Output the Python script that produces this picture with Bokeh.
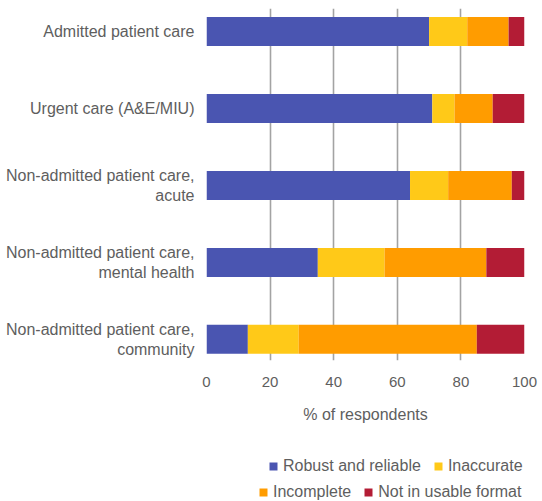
from bokeh.plotting import figure
from bokeh.layouts import column
from bokeh.models import ColumnDataSource, Range1d, FixedTicker, Legend, LegendItem
from bokeh.embed import file_html
from bokeh.resources import INLINE

categories = [
    "Admitted patient care",
    "Urgent care (A&E/MIU)",
    "Non-admitted patient care,\nacute",
    "Non-admitted patient care,\nmental health",
    "Non-admitted patient care,\ncommunity",
]
robust = [70, 71, 64, 35, 13]
inaccurate = [12, 7, 12, 21, 16]
incomplete = [13, 12, 20, 32, 56]
not_usable = [5, 10, 4, 12, 15]
series_names = ["Robust and reliable", "Inaccurate", "Incomplete", "Not in usable format"]
x_ticks = [0, 20, 40, 60, 80, 100]

colors = ["#4A55B1", "#FFC918", "#FF9C00", "#B31C35"]
text_color = "#5e5e5e"
font = "Liberation Sans"

ypos = list(range(len(categories)))
src = ColumnDataSource(dict(y=ypos, robust=robust, inaccurate=inaccurate,
                            incomplete=incomplete, not_usable=not_usable))

p = figure(width=542, height=440, output_backend="svg", toolbar_location=None,
           x_range=Range1d(0, 100), y_range=Range1d(4.275, -0.3),
           min_border_left=206, min_border_right=18, min_border_top=8,
           min_border_bottom=80)
p.outline_line_color = None

renderers = p.hbar_stack(["robust", "inaccurate", "incomplete", "not_usable"], y="y",
                         height=0.377, color=colors, source=src, line_width=0)

# grid
p.xgrid.ticker = FixedTicker(ticks=x_ticks)
p.xgrid.grid_line_color = "#a3a3a3"
p.xgrid.grid_line_width = 1.6
p.ygrid.grid_line_color = None

# x axis
xa = p.xaxis[0]
xa.ticker = FixedTicker(ticks=x_ticks)
xa.axis_line_color = None
xa.major_tick_line_color = None
xa.minor_tick_line_color = None
xa.major_label_text_font = font
xa.major_label_text_font_size = "15px"
xa.major_label_text_color = text_color
xa.major_label_standoff = 10
xa.axis_label = "% of respondents"
xa.axis_label_text_font = font
xa.axis_label_text_font_size = "16px"
xa.axis_label_text_font_style = "normal"
xa.axis_label_text_color = text_color
xa.axis_label_standoff = 16

# y axis
ya = p.yaxis[0]
ya.ticker = FixedTicker(ticks=ypos)
ya.major_label_overrides = {i: c for i, c in enumerate(categories)}
ya.axis_line_color = None
ya.major_tick_line_color = None
ya.minor_tick_line_color = None
ya.major_label_text_font = font
ya.major_label_text_font_size = "16px"
ya.major_label_text_color = text_color
ya.major_label_standoff = 6

# legend strip below the chart
lf = figure(width=542, height=61, output_backend="svg", toolbar_location=None,
            x_range=Range1d(0, 1), y_range=Range1d(0, 1),
            min_border_left=0, min_border_right=0, min_border_top=0, min_border_bottom=0)
lf.axis.visible = False
lf.grid.visible = False
lf.outline_line_color = None
key_renderers = [lf.hbar(y=[0.5], left=[0], right=[0], height=0.0, fill_color=c,
                         line_color=None) for c in colors]

def make_legend(idxs, loc):
    items = [LegendItem(label=series_names[i], renderers=[key_renderers[i]]) for i in idxs]
    return Legend(items=items, orientation="horizontal", location=loc,
                  glyph_width=10, glyph_height=10, label_text_font=font,
                  label_text_font_size="16px", label_text_color=text_color,
                  label_standoff=5, spacing=12, padding=0, margin=0,
                  border_line_color=None, background_fill_alpha=0,
                  label_height=18)

lf.add_layout(make_legend([0, 1], (62, 26)))
lf.add_layout(make_legend([2, 3], (52, 0)))

layout = column(p, lf, spacing=0)
open("out.html", "w").write(file_html(layout, INLINE))
